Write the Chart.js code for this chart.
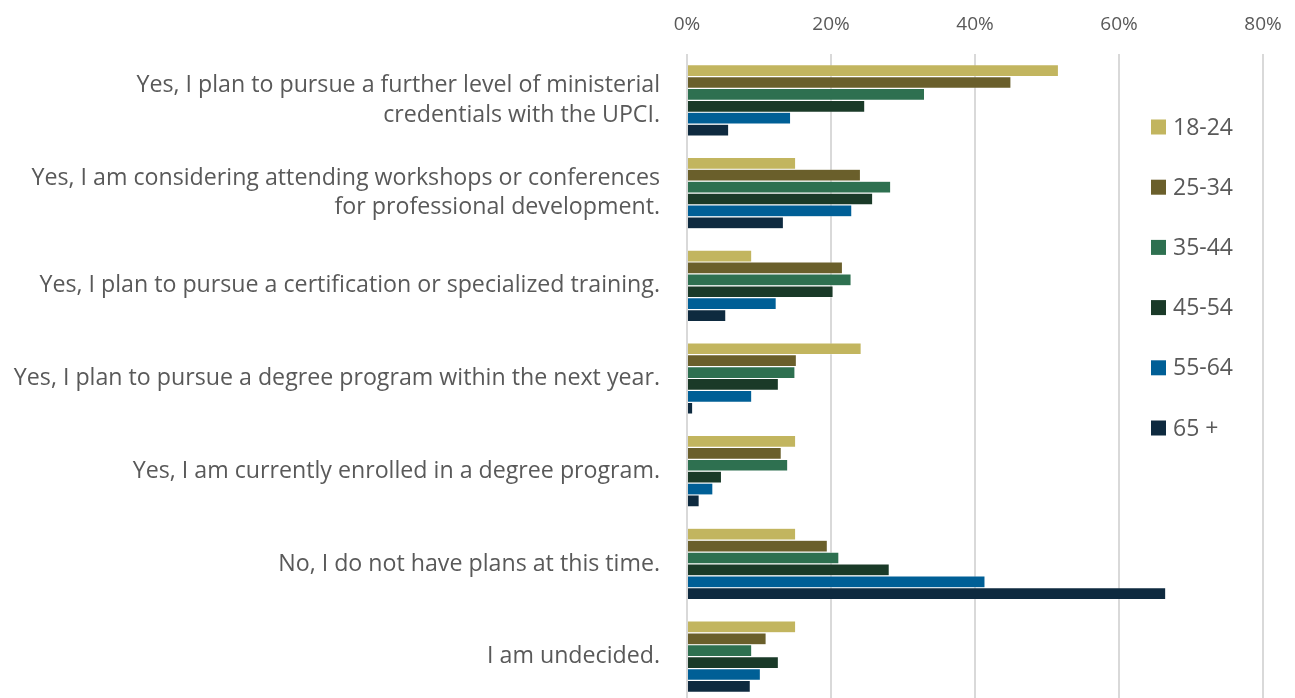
<!DOCTYPE html>
<html lang="en">
<head>
  <meta charset="UTF-8">
  <title>Professional development plans by age group</title>
  <script src="https://cdn.jsdelivr.net/npm/chart.js"></script>
  <style>
    html, body { margin: 0; padding: 0; background: #fff; overflow: hidden; }
    #wrap { width: 1295px; height: 698px; overflow: hidden; }
    canvas { display: block; }
  </style>
</head>
<body>
  <div id="wrap">
    <canvas id="plansChart" width="1295" height="703"></canvas>
  </div>
  <script>
    const categories = [
      ['Yes, I plan to pursue a further level of ministerial', 'credentials with the UPCI.'],
      ['Yes, I am considering attending workshops or conferences', 'for professional development.'],
      'Yes, I plan to pursue a certification or specialized training.',
      'Yes, I plan to pursue a degree program within the next year.',
      'Yes, I am currently enrolled in a degree program.',
      'No, I do not have plans at this time.',
      'I am undecided.'
    ];

    const ageGroups = ['18-24', '25-34', '35-44', '45-54', '55-64', '65 +'];

    // percent of respondents per age group, in category order
    const age18to24 = [51.6, 15.1, 9.0, 24.2, 15.1, 15.1, 15.1];
    const age25to34 = [45.0, 24.1, 21.6, 15.2, 13.1, 19.5, 11.0];
    const age35to44 = [33.0, 28.3, 22.8, 15.0, 14.0, 21.1, 9.0];
    const age45to54 = [24.7, 25.8, 20.3, 12.7, 4.8, 28.1, 12.7];
    const age55to64 = [14.4, 22.9, 12.4, 9.0, 3.6, 41.4, 10.2];
    const age65plus = [5.8, 13.4, 5.4, 0.8, 1.7, 66.5, 8.8];

    const xTicks = [0, 20, 40, 60, 80];

    const seriesValues = [age18to24, age25to34, age35to44, age45to54, age55to64, age65plus];
    const colors = ['#c2b55f', '#6a5f2b', '#2e7050', '#1a3a28', '#005f96', '#0e2a3f'];

    const textColor = '#595959';
    const fontFamily = '"Open Sans", "Noto Sans", sans-serif';

    // legend stacked in the right part of the plot, like the office chart
    const sideLegend = {
      id: 'sideLegend',
      afterDraw(chart) {
        const ctx = chart.ctx;
        const area = chart.chartArea;
        const x = area.right - 112;
        let y = area.top + 73;
        ctx.save();
        ctx.font = '23px ' + fontFamily;
        ctx.textBaseline = 'middle';
        chart.data.datasets.forEach(ds => {
          ctx.fillStyle = ds.backgroundColor;
          ctx.fillRect(x, y - 7.5, 15, 15);
          ctx.fillStyle = textColor;
          ctx.fillText(ds.label, x + 22, y + 1);
          y += 60.2;
        });
        ctx.restore();
      }
    };

    const ctx = document.getElementById('plansChart').getContext('2d');
    new Chart(ctx, {
      type: 'bar',
      data: {
        labels: categories,
        datasets: ageGroups.map((name, i) => ({
          label: name,
          data: seriesValues[i],
          backgroundColor: colors[i],
          borderColor: 'rgba(255,255,255,0.45)',
          borderWidth: 0.6,
          categoryPercentage: 0.77,
          barPercentage: 1.0
        }))
      },
      options: {
        indexAxis: 'y',
        responsive: false,
        animation: false,
        layout: { padding: { left: 0, right: 32, top: 0, bottom: 0 } },
        plugins: {
          legend: { display: false },
          tooltip: { enabled: false }
        },
        scales: {
          x: {
            position: 'top',
            min: 0,
            max: 80,
            afterBuildTicks: scale => {
              scale.ticks = xTicks.map(v => ({ value: v }));
            },
            // fixed band height, and no extra room for the end labels
            afterFit: scale => {
              scale.height = 54;
              scale.paddingLeft = 0;
              scale.paddingRight = 0;
            },
            grid: { color: '#d9d9d9', lineWidth: 2, drawTicks: false },
            border: { display: false },
            ticks: {
              padding: 18,
              color: textColor,
              font: { family: fontFamily, size: 19 },
              callback: v => v + '%'
            }
          },
          y: {
            afterFit: scale => {
              scale.width = 687;
              scale.paddingTop = 0;
              scale.paddingBottom = 0;
            },
            grid: { display: false, drawTicks: false },
            border: { display: false },
            ticks: {
              padding: 27,
              color: textColor,
              font: { family: fontFamily, size: 23.2, lineHeight: 1.27 }
            }
          }
        }
      },
      plugins: [sideLegend]
    });
  </script>
</body>
</html>
